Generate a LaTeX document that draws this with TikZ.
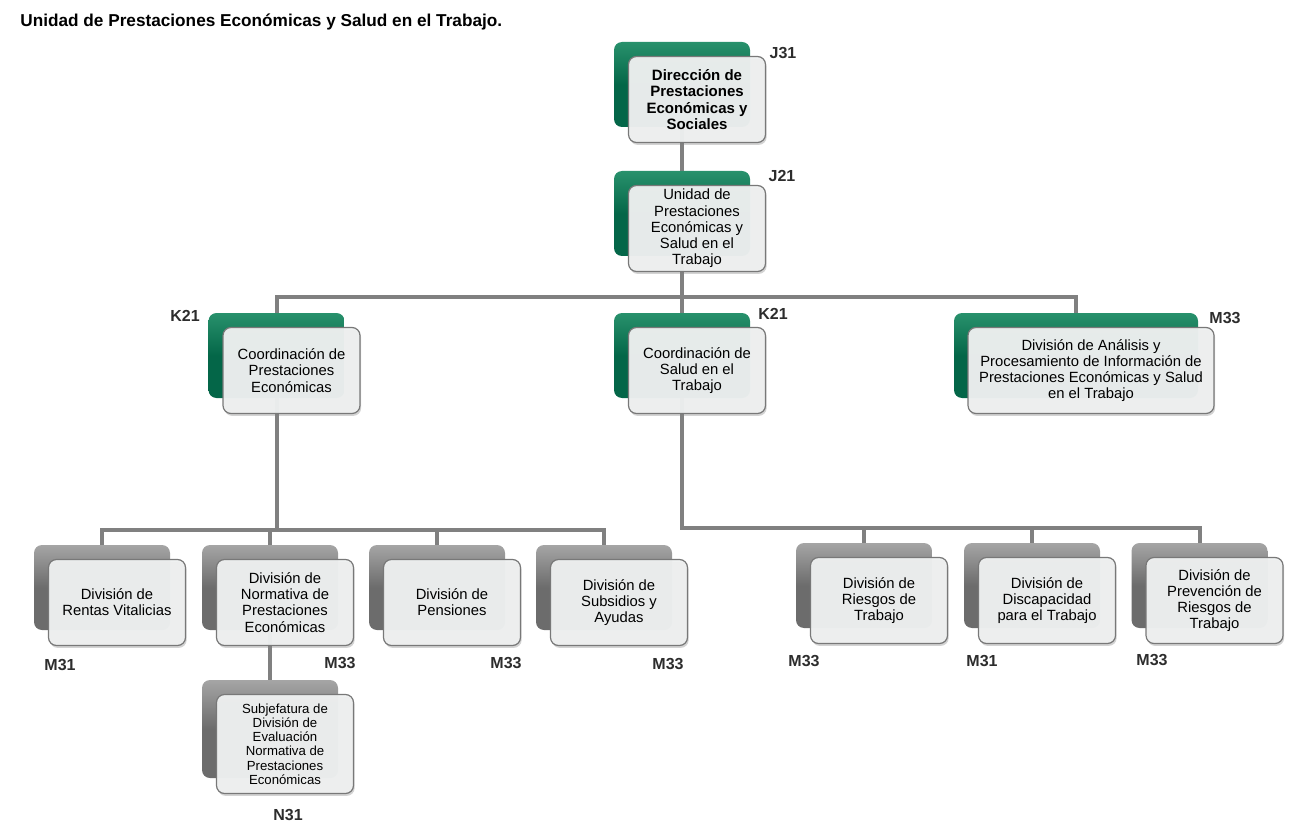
\documentclass[tikz,border=0pt]{standalone}
\usepackage{fontspec}
\setmainfont{Liberation Sans}
\usetikzlibrary{shadows,backgrounds}

\definecolor{verde}{RGB}{4,102,72}
\definecolor{verdeclaro}{RGB}{40,145,108}
\definecolor{gris}{RGB}{108,108,108}
\definecolor{grisclaro}{RGB}{165,165,165}
\definecolor{linea}{RGB}{128,128,128}
\definecolor{caja}{RGB}{238,240,240}
\definecolor{borde}{RGB}{120,120,120}
\definecolor{codigo}{RGB}{45,45,45}

\tikzset{
  fondo/.style={rectangle, rounded corners=4pt, inner sep=0pt,
    minimum width=68pt, minimum height=42.5pt},
  fondoverde/.style={fondo, top color=verdeclaro, bottom color=verde, middle color=verde},
  fondogris/.style={fondo, top color=grisclaro, bottom color=gris, middle color=gris},
  caja/.style={rectangle, rounded corners=4pt, draw=borde, line width=0.6pt,
    fill=caja, fill opacity=0.96, text opacity=1, inner sep=1pt, align=center,
    minimum width=68.5pt, minimum height=43pt, xshift=7.5pt, yshift=-7.5pt,
    font=\fontsize{7.4}{8.1}\selectfont,
    drop shadow={shadow xshift=0.6pt, shadow yshift=-1.2pt, opacity=0.35}},
  codigo/.style={font=\fontsize{8}{9}\selectfont\bfseries, text=codigo, inner sep=0pt},
  conector/.style={draw=linea, line width=2pt}
}

\begin{document}
\begin{tikzpicture}[x=0.5pt, y=-0.5pt]
        \useasboundingbox (0,0) rectangle (1306,834);
        \node[anchor=west, inner sep=0pt, font=\fontsize{8.6}{10}\selectfont\bfseries] (titulo) at (20,22) {Unidad de Prestaciones Económicas y Salud en el Trabajo.};

        % nivel 1 y 2
        \node[fondoverde] (dir-b) at (682,84.5) {};
        \node[caja, font=\fontsize{7.5}{8.1}\selectfont\bfseries] (dir) at (dir-b) {Dirección de\\Prestaciones\\Económicas y\\Sociales};
        \node[fondoverde] (uni-b) at (682,213.5) {};
        \node[caja] (uni) at (uni-b) {Unidad de\\Prestaciones\\Económicas y\\Salud en el\\Trabajo};

        % coordinaciones
        \node[fondoverde] (cpe-b) at (276.5,355.5) {};
        \node[caja] (cpe) at (cpe-b) {Coordinación de\\Prestaciones\\Económicas};
        \node[fondoverde] (csa-b) at (682,355.5) {};
        \node[caja] (csa) at (csa-b) {Coordinación de\\Salud en el\\Trabajo};
        \node[fondoverde, minimum width=122pt] (dap-b) at (1076,355.5) {};
        \node[caja, minimum width=123pt] (dap) at (dap-b) {División de Análisis y\\Procesamiento de Información de\\Prestaciones Económicas y Salud\\en el Trabajo};

        % divisiones
        \node[fondogris] (rva-b) at (102,587.5) {};
        \node[caja] (rva) at (rva-b) {División de\\Rentas Vitalicias};
        \node[fondogris] (nor-b) at (270,587.5) {};
        \node[caja] (nor) at (nor-b) {División de\\Normativa de\\Prestaciones\\Económicas};
        \node[fondogris] (pen-b) at (437,587.5) {};
        \node[caja] (pen) at (pen-b) {División de\\Pensiones};
        \node[fondogris] (sub-b) at (604,587.5) {};
        \node[caja] (sub) at (sub-b) {División de\\Subsidios y\\Ayudas};
        \node[fondogris, minimum height=49pt] (sje-b) at (270,729) {};
        \node[caja, minimum height=49.5pt, font=\fontsize{6.6}{7.1}\selectfont] (sje) at (sje-b) {Subjefatura de\\División de\\Evaluación\\Normativa de\\Prestaciones\\Económicas};

        \node[fondogris] (rie-b) at (864,585.5) {};
        \node[caja] (rie) at (rie-b) {División de\\Riesgos de\\Trabajo};
        \node[fondogris] (dis-b) at (1032,585.5) {};
        \node[caja] (dis) at (dis-b) {División de\\Discapacidad\\para el Trabajo};
        \node[fondogris] (pre-b) at (1199.5,585.5) {};
        \node[caja] (pre) at (pre-b) {División de\\Prevención de\\Riesgos de\\Trabajo};

        % codigos
        \node[codigo] (c-dir) at (783,53) {J31};
        \node[codigo] (c-uni) at (782,176) {J21};
        \node[codigo] (c-cpe) at (185,316) {K21};
        \node[codigo] (c-csa) at (773,314) {K21};
        \node[codigo] (c-dap) at (1225,318) {M33};
        \node[codigo] (c-rva) at (60,665) {M31};
        \node[codigo] (c-nor) at (340,663) {M33};
        \node[codigo] (c-pen) at (506,663) {M33};
        \node[codigo] (c-sub) at (668,664) {M33};
        \node[codigo] (c-sje) at (288,815) {N31};
        \node[codigo] (c-rie) at (804,661) {M33};
        \node[codigo] (c-dis) at (982,661) {M31};
        \node[codigo] (c-pre) at (1152,660) {M33};

        \begin{pgfonlayer}{background}
        \coordinate (bus1) at (682,297);
        \coordinate (bus2) at (276.5,530);
        \coordinate (bus3) at (682,528);
        \draw[conector] (dir-b) -- (uni-b);
        \draw[conector] (uni-b) -- (csa-b);
        \draw[conector] (cpe-b.north) |- (bus1) -| (dap-b.north);
        \draw[conector] (cpe-b) -- (bus2);
        \draw[conector] (rva-b.north) |- (bus2) -| (sub-b.north);
        \draw[conector] (nor-b.north) -- (nor-b.north |- bus2);
        \draw[conector] (pen-b.north) -- (pen-b.north |- bus2);
        \draw[conector] (nor-b) -- (sje-b);
        \draw[conector] (csa-b) -- (bus3) -| (pre-b.north);
        \draw[conector] (rie-b.north) -- (rie-b.north |- bus3);
        \draw[conector] (dis-b.north) -- (dis-b.north |- bus3);
        \end{pgfonlayer}
\end{tikzpicture}
\end{document}
